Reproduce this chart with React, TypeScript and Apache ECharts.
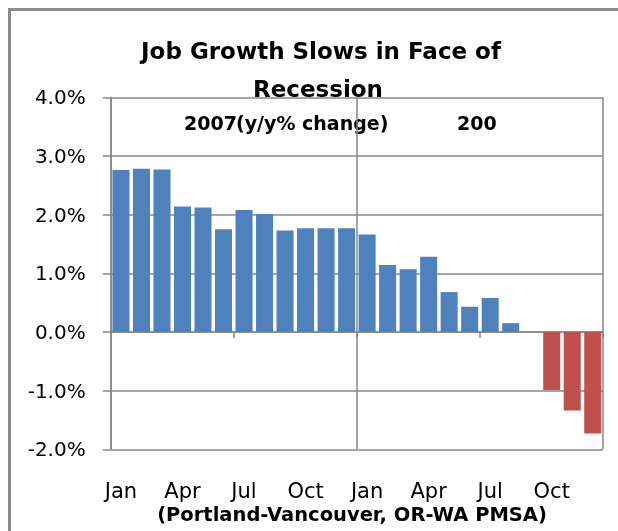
import React, { useEffect, useRef } from 'react';
import * as echarts from 'echarts';

const months = ['Jan','Feb','Mar','Apr','May','Jun','Jul','Aug','Sep','Oct','Nov','Dec',
  'Jan','Feb','Mar','Apr','May','Jun','Jul','Aug','Sep','Oct','Nov','Dec'];
const growthUp = [2.76, 2.78, 2.77, 2.14, 2.12, 1.75, 2.08, 2.01, 1.73, 1.77, 1.77, 1.77,
  1.66, 1.14, 1.07, 1.28, 0.68, 0.43, 0.58, 0.15, null, null, null, null];
const growthDown = [null, null, null, null, null, null, null, null, null, null, null, null,
  null, null, null, null, null, null, null, null, null, -0.99, -1.34, -1.73];
const titleLines = ['Job Growth Slows in Face of', 'Recession'];
const yearLabels = ['2007', '200'];
const unitLabel = '(y/y% change)';
const regionLabel = '(Portland-Vancouver, OR-WA PMSA)';
const yMin = -2;
const yMax = 4;
const yStep = 1;

const FONT = 'DejaVu Sans';
const GRID = '#898989';

export default function App() {
  const ref = useRef<HTMLDivElement>(null);
  useEffect(() => {
    if (!ref.current) return;
    const chart = echarts.init(ref.current, null, { renderer: 'svg' });
    const bold = { fontFamily: FONT, fontWeight: 'bold', fill: '#000' };
    chart.setOption({
      animation: false,
      grid: { left: 102.7, top: 89.3, right: 15, bottom: 81.7, containLabel: false, outerBoundsMode: 'none' },
      xAxis: {
        type: 'category',
        data: months,
        boundaryGap: true,
        axisLine: { show: true, onZero: true, lineStyle: { color: GRID, width: 1.5 } },
        axisTick: { show: true, interval: 5, length: 6, lineStyle: { color: GRID, width: 1.5 } },
        axisLabel: { interval: 2, margin: 31, fontFamily: FONT, fontSize: 21, color: '#000' },
        splitLine: { show: true, interval: 11, lineStyle: { color: GRID, width: 1.5 } },
      },
      yAxis: {
        type: 'value',
        min: yMin,
        max: yMax,
        interval: yStep,
        axisLine: { show: true, lineStyle: { color: GRID, width: 1.5 } },
        axisTick: { show: true, length: 8, lineStyle: { color: GRID, width: 1.5 } },
        axisLabel: {
          margin: 25,
          fontFamily: FONT,
          fontSize: 20,
          color: '#000',
          formatter: (v: number) => v.toFixed(1) + '%',
        },
        splitLine: { show: true, lineStyle: { color: GRID, width: 1.5 } },
      },
      series: [
        {
          type: 'bar',
          data: growthUp,
          barCategoryGap: '17%',
          barGap: '-100%',
          itemStyle: { color: '#4f81bd' },
        },
        {
          type: 'bar',
          data: growthDown,
          barCategoryGap: '17%',
          barGap: '-100%',
          itemStyle: { color: '#c0504d' },
        },
      ],
      graphic: [
        { type: 'text', x: 313, y: 43, style: { ...bold, text: titleLines[0], fontSize: 23, textAlign: 'center', textVerticalAlign: 'middle' } },
        { type: 'text', x: 310, y: 80.5, style: { ...bold, text: titleLines[1], fontSize: 23, textAlign: 'center', textVerticalAlign: 'middle' } },
        { type: 'text', x: 229, y: 115, style: { ...bold, text: yearLabels[0], fontSize: 19, textAlign: 'right', textVerticalAlign: 'middle' } },
        { type: 'text', x: 228, y: 115, style: { ...bold, text: unitLabel, fontSize: 19, textAlign: 'left', textVerticalAlign: 'middle' } },
        { type: 'text', x: 449, y: 115, style: { ...bold, text: yearLabels[1], fontSize: 19, textAlign: 'left', textVerticalAlign: 'middle' } },
        { type: 'text', x: 344, y: 506, style: { ...bold, text: regionLabel, fontSize: 19.5, textAlign: 'center', textVerticalAlign: 'middle' } },
      ],
    });
    return () => chart.dispose();
  }, []);
  return (
    <div style={{ position: 'fixed', left: 8, top: 8, width: 610, height: 523 }}>
      <div style={{ position: 'absolute', left: 0, top: 0, width: 610, height: 523, boxSizing: 'border-box', borderTop: '3px solid #8c8c8c', borderLeft: '3px solid #8c8c8c' }} />
      <div ref={ref} style={{ position: 'absolute', left: 0, top: 0, width: 610, height: 523 }} />
    </div>
  );
}
